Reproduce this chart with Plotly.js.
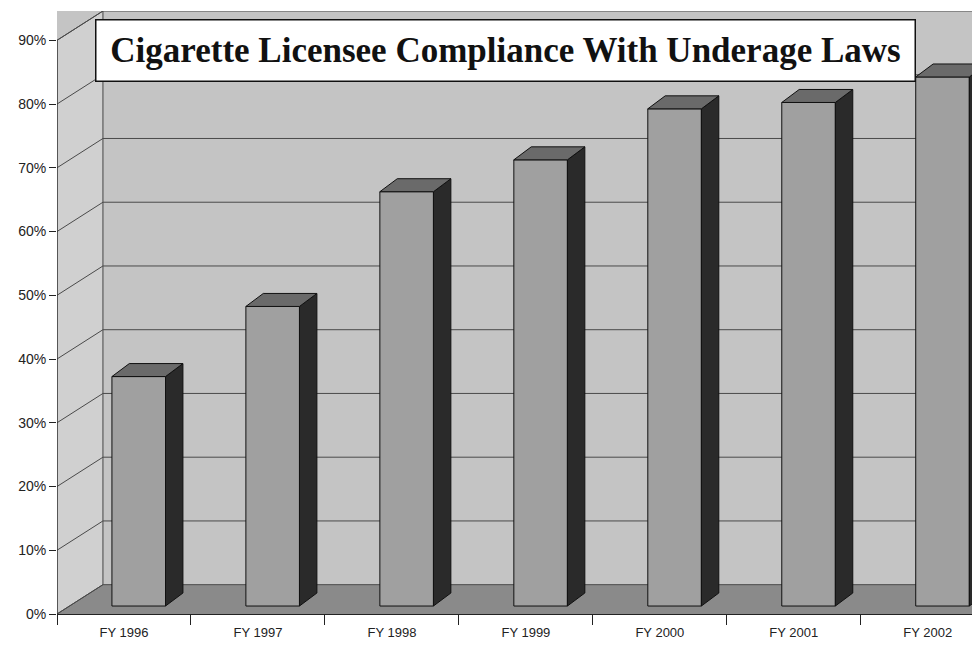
<!DOCTYPE html>
<html><head><meta charset="utf-8">
<script src="https://cdn.plot.ly/plotly-3.0.1.min.js"></script>
<style>html,body{margin:0;padding:0;background:#fff}</style>
</head><body><div id="chart" style="width:972px;height:654px"></div>
<script>
// ---- data ----
const categories = ["FY 1996","FY 1997","FY 1998","FY 1999","FY 2000","FY 2001","FY 2002"];
const compliance = [0.36, 0.47, 0.65, 0.70, 0.78, 0.79, 0.83];
const yTickVals = [0, 0.1, 0.2, 0.3, 0.4, 0.5, 0.6, 0.7, 0.8, 0.9];
const yTickText = ["0%","10%","20%","30%","40%","50%","60%","70%","80%","90%"];
const titleText = "Cigarette Licensee Compliance With Underage Laws";

// ---- 3D look (style constants) ----
const X_MIN = -0.5, X_MAX = 6.33;
const WALL_DX = 0.343, WALL_DY = 0.046;
const BAR_OFF = -0.09, BAR_W = 0.40, BAR_DX = 0.13, BAR_DY = 0.0204, BAR_BASE = 0.0125;

const sideX = [], sideY = [], topX = [], topY = [];
compliance.forEach((v, i) => {
  const L = i + BAR_OFF, R = L + BAR_W, b = BAR_BASE, t = BAR_BASE + v;
  sideX.push(R, R + BAR_DX, R + BAR_DX, R, R, null);
  sideY.push(b, b + BAR_DY, t + BAR_DY, t, b, null);
  topX.push(L, R, R + BAR_DX, L + BAR_DX, L, null);
  topY.push(t, t, t + BAR_DY, t + BAR_DY, t, null);
});

const traces = [
  {type: 'bar', x: categories, y: compliance, base: BAR_BASE, offset: BAR_OFF, width: BAR_W,
   marker: {color: '#a0a0a0', line: {color: '#111', width: 1}}, xaxis: 'x', yaxis: 'y', hoverinfo: 'skip'},
  {type: 'scatter', mode: 'lines', x: sideX, y: sideY, fill: 'toself', fillcolor: '#2a2a2a',
   line: {color: '#111', width: 1}, xaxis: 'x2', yaxis: 'y', hoverinfo: 'skip'},
  {type: 'scatter', mode: 'lines', x: topX, y: topY, fill: 'toself', fillcolor: '#6a6a6a',
   line: {color: '#111', width: 1}, xaxis: 'x2', yaxis: 'y', hoverinfo: 'skip'}
];

const shapes = [];
const bx = X_MIN + WALL_DX;
// floor
shapes.push({type: 'path', xref: 'x2', yref: 'y', layer: 'below',
  path: `M ${X_MIN} 0 L ${bx} ${WALL_DY} L ${X_MAX} ${WALL_DY} L ${X_MAX} 0 Z`,
  fillcolor: '#8a8a8a', line: {width: 0}});
// left wall
const yTop = yTickVals[yTickVals.length - 1];
shapes.push({type: 'path', xref: 'x2', yref: 'y', layer: 'below',
  path: `M ${X_MIN} 0 L ${bx} ${WALL_DY} L ${bx} ${yTop + WALL_DY} L ${X_MIN} ${yTop} Z`,
  fillcolor: '#d0d0d0', line: {color: '#444', width: 1}});
// grid lines: back wall + left wall diagonals
yTickVals.forEach(t => {
  shapes.push({type: 'line', xref: 'x2', yref: 'y', layer: 'below',
    x0: bx, x1: X_MAX, y0: t + WALL_DY, y1: t + WALL_DY, line: {color: '#4a4a4a', width: 1}});
  shapes.push({type: 'line', xref: 'x2', yref: 'y', layer: 'below',
    x0: X_MIN, x1: bx, y0: t, y1: t + WALL_DY, line: {color: '#4a4a4a', width: 1}});
});
// front-left axis line
shapes.push({type: 'line', xref: 'x2', yref: 'y', layer: 'above',
  x0: X_MIN, x1: X_MIN, y0: 0, y1: yTop, line: {color: '#222', width: 1}});

const layout = {
  width: 972, height: 654,
  margin: {l: 57, r: 0, t: 11, b: 40},
  paper_bgcolor: '#ffffff', plot_bgcolor: '#c4c4c4',
  showlegend: false,
  font: {family: 'Liberation Sans, Arial, sans-serif', color: '#222'},
  xaxis: {type: 'category', range: [X_MIN, X_MAX], tickson: 'boundaries', ticks: 'outside',
    ticklen: 10, tickcolor: '#222', showline: true, linecolor: '#222', linewidth: 1,
    ticklabelstandoff: 6,
    showgrid: false, zeroline: false, tickfont: {size: 13, color: '#222'}, fixedrange: true},
  xaxis2: {type: 'linear', overlaying: 'x', range: [X_MIN, X_MAX], visible: false, fixedrange: true},
  yaxis: {range: [0, yTop + WALL_DY], tickvals: yTickVals, ticktext: yTickText, ticks: 'outside',
    ticklen: 7, tickcolor: '#222', showline: false, showgrid: false, zeroline: false,
    tickfont: {size: 14, color: '#222'}, fixedrange: true},
  shapes: shapes,
  annotations: [{
    text: '<b>' + titleText + '</b>', xref: 'paper', yref: 'paper',
    x: 0.4907, y: 0.935, xanchor: 'center', yanchor: 'middle', showarrow: false,
    width: 818, height: 60, align: 'center', valign: 'middle',
    bgcolor: '#ffffff', bordercolor: '#111', borderwidth: 1.5, borderpad: 0,
    font: {family: 'Liberation Serif, Times New Roman, serif', size: 35, color: '#111'}
  }]
};

Plotly.newPlot('chart', traces, layout, {displayModeBar: false, staticPlot: true});
</script>
</body></html>
